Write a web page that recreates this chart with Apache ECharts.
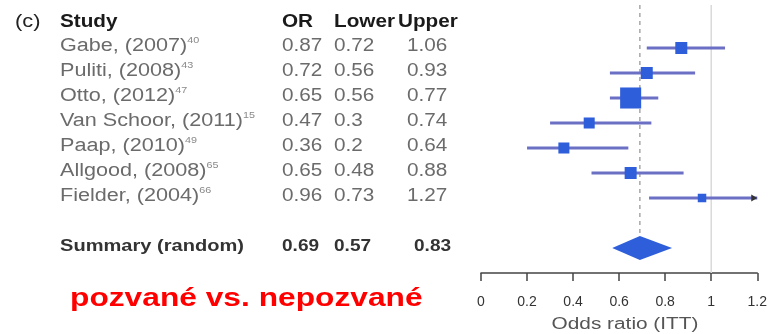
<!DOCTYPE html>
<html><head><meta charset="utf-8">
<script src="https://cdn.jsdelivr.net/npm/echarts@6/dist/echarts.min.js"></script>
<style>html,body{margin:0;padding:0;background:#fff}#c{width:770px;height:334px}</style>
</head><body><div id="c"></div>
<script>
// ---- data ----
const panelLabel = '(c)';
const headers = ['Study', 'OR', 'Lower', 'Upper'];
const studies = ['Gabe, (2007)', 'Puliti, (2008)', 'Otto, (2012)', 'Van Schoor, (2011)', 'Paap, (2010)', 'Allgood, (2008)', 'Fielder, (2004)'];
const refs = ['40', '43', '47', '15', '49', '65', '66'];
const orValues = [0.87, 0.72, 0.65, 0.47, 0.36, 0.65, 0.96];
const lowerValues = [0.72, 0.56, 0.56, 0.3, 0.2, 0.48, 0.73];
const upperValues = [1.06, 0.93, 0.77, 0.74, 0.64, 0.88, 1.27];
const weights = [12.1, 12.1, 37.2, 10.2, 10.2, 12.1, 6.1];
const summaryLabel = 'Summary (random)';
const summaryValues = [0.69, 0.57, 0.83];
const xTicks = [0, 0.2, 0.4, 0.6, 0.8, 1, 1.2];
const nullValue = 1;
const axisTitle = 'Odds ratio (ITT)';
const caption = 'pozvané vs. nepozvané';

// ---- layout / style ----
const X_MIN = xTicks[0], X_MAX = xTicks[xTicks.length - 1];
const X_STEP = xTicks[1] - xTicks[0];
const studyRows = studies.map((_, i) => i + 1);
const summaryRow = studies.length + 2;
const Y_TOP = -0.72, Y_BOTTOM = summaryRow + 1;
const FONT = '"Liberation Sans", Arial, Helvetica, sans-serif';
const LINE_COLOR = '#6b70c4', BOX_COLOR = '#2f5edb';

const chart = echarts.init(document.getElementById('c'), null, {renderer: 'canvas'});

const studyData = studies.map((s, i) => [orValues[i], lowerValues[i], upperValues[i], studyRows[i], weights[i]]);

function renderStudy(params, api) {
  const row = api.value(3);
  const y = api.coord([X_MIN, row])[1];
  const xo = api.coord([api.value(0), row])[0];
  const xl = api.coord([Math.max(api.value(1), X_MIN), row])[0];
  const up = api.value(2);
  const xu = api.coord([Math.min(up, X_MAX), row])[0];
  const side = Math.sqrt(api.value(4)) * 3.45;
  const children = [
    {type: 'line', shape: {x1: xl, y1: y, x2: xu, y2: y}, style: {stroke: LINE_COLOR, lineWidth: 3}},
    {type: 'rect', shape: {x: xo - side / 2, y: y - side / 2, width: side, height: side}, style: {fill: BOX_COLOR}}
  ];
  if (up > X_MAX) {
    children.push({type: 'polygon', shape: {points: [[xu, y], [xu - 6, y - 3.5], [xu - 6, y + 3.5]]}, style: {fill: '#333'}});
  }
  return {type: 'group', children};
}

function renderDiamond(params, api) {
  const row = api.value(3);
  const y = api.coord([X_MIN, row])[1];
  const xo = api.coord([api.value(0), row])[0];
  const xl = api.coord([api.value(1), row])[0];
  const xu = api.coord([api.value(2), row])[0];
  return {type: 'polygon', shape: {points: [[xl, y], [xo, y - 12], [xu, y], [xo, y + 12]]}, style: {fill: BOX_COLOR}};
}

chart.setOption({
  animation: false,
  grid: {left: 481, width: 281, top: 5, height: 268},
  xAxis: {
    type: 'value', min: X_MIN, max: X_MAX, interval: X_STEP,
    axisLine: {onZero: false, lineStyle: {color: '#444', width: 1.5}},
    axisTick: {length: 8, lineStyle: {color: '#444', width: 1.5}},
    axisLabel: {margin: 22, fontSize: 14, color: '#333', fontFamily: FONT, formatter: v => String(+(+v).toFixed(1))},
    splitLine: {show: false}
  },
  yAxis: {type: 'value', inverse: true, min: Y_TOP, max: Y_BOTTOM, show: false},
  series: [
    {type: 'line', data: [[nullValue, Y_TOP], [nullValue, Y_BOTTOM]], symbol: 'none', silent: true, z: 1,
     lineStyle: {color: '#d9d9d9', width: 1.5}},
    {type: 'line', data: [[summaryValues[0], Y_TOP], [summaryValues[0], summaryRow]], symbol: 'none', silent: true, z: 1,
     lineStyle: {color: '#a8a8a8', width: 1.5, type: [4, 4]}},
    {type: 'custom', data: studyData, renderItem: renderStudy, z: 3, clip: false,
     encode: {x: [0, 1, 2], y: 3}},
    {type: 'custom', data: [[summaryValues[0], summaryValues[1], summaryValues[2], summaryRow]], renderItem: renderDiamond, z: 3,
     encode: {x: [0, 1, 2], y: 3}}
  ]
});

// ---- table texts ----
const yOf = r => chart.convertToPixel({gridIndex: 0}, [X_MIN, r])[1];
function txt(x, y, text, o) {
  o = o || {};
  return {
    type: 'text', x, y, scaleX: o.sx || 1.15, silent: true,
    style: {text, fontFamily: FONT, fontSize: o.fs || 18, fontWeight: o.fw || 'normal',
            fill: o.c || '#6b6b6b', align: o.align || 'left', verticalAlign: 'middle', rich: o.rich}
  };
}
const colX = [60, 282, 334, 407];
const headX = [60, 282, 334, 398];
const els = [];
const hy = yOf(0) - 1;
els.push(txt(15, hy, panelLabel, {fs: 19, c: '#222'}));
headers.forEach((h, i) => els.push(txt(headX[i], hy, h, {fw: 'bold', c: '#1a1a1a'})));
studies.forEach((s, i) => {
  const y = yOf(studyRows[i]) - 2;
  els.push(txt(colX[0], y, '{n|' + s + '}{s|' + refs[i] + '}', {
    sx: 1.2,
    rich: {n: {fontSize: 18, fill: '#6b6b6b', fontFamily: FONT, lineHeight: 20},
           s: {fontSize: 9, fill: '#8a8a8a', fontFamily: FONT, verticalAlign: 'top', lineHeight: 10}}
  }));
  els.push(txt(colX[1], y, String(orValues[i])));
  els.push(txt(colX[2], y, String(lowerValues[i])));
  els.push(txt(colX[3], y, String(upperValues[i])));
});
const sy = yOf(summaryRow) - 2;
els.push(txt(60, sy, summaryLabel, {fw: 'bold', fs: 17, sx: 1.18, c: '#333'}));
els.push(txt(282, sy, summaryValues[0].toFixed(2), {fw: 'bold', fs: 17, sx: 1.12, c: '#333'}));
els.push(txt(334, sy, summaryValues[1].toFixed(2), {fw: 'bold', fs: 17, sx: 1.12, c: '#333'}));
els.push(txt(414, sy, summaryValues[2].toFixed(2), {fw: 'bold', fs: 17, sx: 1.12, c: '#333'}));
els.push(txt(70, 299, caption, {fw: 'bold', fs: 26, sx: 1.22, c: '#ff0000'}));
els.push(txt(625, 325, axisTitle, {fs: 16, sx: 1.3, c: '#555', align: 'center'}));

chart.setOption({graphic: {elements: els}});
</script>
</body></html>
